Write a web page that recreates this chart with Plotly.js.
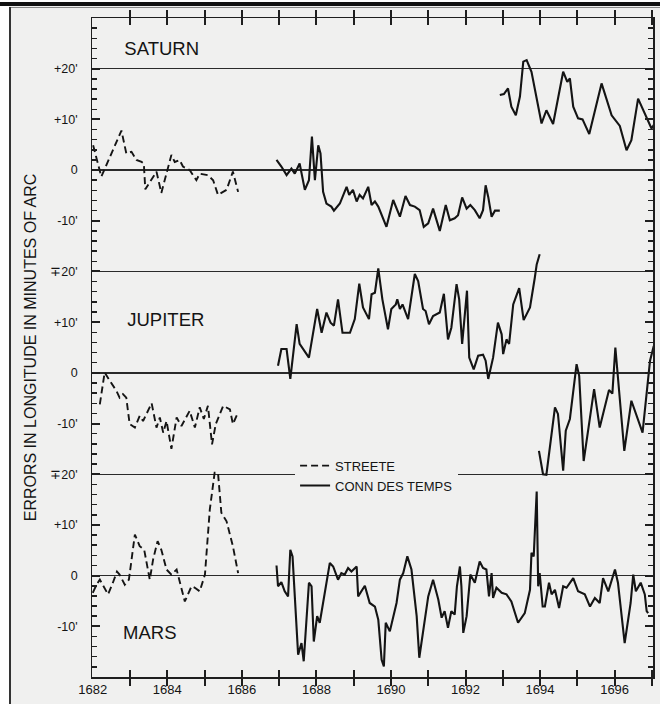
<!DOCTYPE html>
<html><head><meta charset="utf-8">
<script src="https://cdn.plot.ly/plotly-3.0.1.min.js"></script>
<style>
html,body{margin:0;padding:0;background:#fff;}
#wrap{position:relative;width:660px;height:704px;overflow:hidden;}
#chart{position:absolute;left:0;top:0;width:660px;height:704px;}
.deco{position:absolute;pointer-events:none;}
</style></head>
<body><div id="wrap"><div id="chart"></div>
<div class="deco" style="left:0;top:0;width:660px;height:2px;background:#fff"></div>
<div class="deco" style="left:0;top:0;width:9px;height:704px;background:#fff"></div>
<div class="deco" style="left:0;top:2px;width:660px;height:4px;background:#111"></div>
<div class="deco" style="left:9px;top:7px;width:651px;height:1px;background:#888"></div>
<div class="deco" style="left:9px;top:7px;width:2px;height:697px;background:#333"></div>
</div>
<script>
// ---- data: [year, error in minutes of arc] ----
const saturnStreete = [[1682.01,4.9],[1682.23,-1.3],[1682.77,7.8],[1682.90,3.3],[1683.04,3.6],[1683.17,2.0],[1683.31,1.6],[1683.37,1.3],[1683.41,-3.8],[1683.71,-0.3],[1683.84,-4.5],[1684.11,3.0],[1684.20,1.6],[1684.33,2.0],[1684.42,0.7],[1684.60,0],[1684.78,-2.0],[1684.87,-0.7],[1685.09,-1.0],[1685.23,-2.0],[1685.36,-4.9],[1685.59,-3.9],[1685.76,-0.3],[1685.90,-4.3]];
const saturnConnA = [[1686.93,2.0],[1687.06,0.7],[1687.20,-1.0],[1687.33,0.3],[1687.42,-0.7],[1687.55,1.3],[1687.69,-3.9],[1687.80,-2.0],[1687.88,6.6],[1687.96,-2.0],[1688.05,4.9],[1688.11,3.3],[1688.18,-4.3],[1688.27,-6.6],[1688.40,-7.2],[1688.47,-8.0],[1688.63,-6.6],[1688.81,-3.3],[1688.88,-4.9],[1688.98,-3.9],[1689.08,-6.2],[1689.16,-4.9],[1689.25,-5.6],[1689.39,-3.3],[1689.48,-6.9],[1689.57,-6.2],[1689.66,-7.2],[1689.88,-11.2],[1690.06,-5.9],[1690.24,-9.2],[1690.39,-5.1],[1690.51,-6.9],[1690.64,-7.2],[1690.77,-7.9],[1690.88,-11.2],[1691.00,-10.5],[1691.13,-7.6],[1691.22,-9.9],[1691.31,-12.0],[1691.47,-6.9],[1691.58,-9.9],[1691.71,-9.5],[1691.80,-8.9],[1691.91,-5.4],[1692.03,-7.6],[1692.13,-6.9],[1692.25,-7.9],[1692.38,-9.5],[1692.47,-7.9],[1692.54,-3.0],[1692.61,-5.3],[1692.70,-9.2],[1692.79,-8.0],[1692.92,-8.0]];
const saturnConnB = [[1692.92,14.8],[1693.03,15.0],[1693.14,16.1],[1693.23,12.5],[1693.35,10.8],[1693.46,14.5],[1693.55,21.4],[1693.64,21.7],[1693.77,19.4],[1694.04,9.2],[1694.17,11.8],[1694.35,9.1],[1694.62,19.4],[1694.73,17.4],[1694.80,18.1],[1694.89,12.5],[1695.02,10.2],[1695.14,10.0],[1695.32,7.1],[1695.65,17.1],[1695.92,10.8],[1696.14,8.7],[1696.32,3.9],[1696.45,5.9],[1696.63,14.1],[1696.86,10.2],[1696.99,8.2],[1697.08,9.2]];

const jupiterStreete = [[1682.19,-6.2],[1682.32,0.1],[1682.46,-1.6],[1682.64,-3.6],[1682.72,-4.9],[1682.81,-4.2],[1682.90,-4.9],[1682.99,-10.1],[1683.13,-10.8],[1683.26,-8.5],[1683.35,-9.5],[1683.58,-6.0],[1683.71,-10.8],[1683.80,-8.8],[1683.89,-11.8],[1683.98,-9.5],[1684.11,-15.0],[1684.25,-8.8],[1684.38,-10.5],[1684.60,-7.5],[1684.74,-10.8],[1684.87,-6.8],[1684.98,-9.1],[1685.09,-6.5],[1685.20,-14.1],[1685.30,-10.1],[1685.50,-6.5],[1685.68,-7.2],[1685.76,-10.1],[1685.88,-8.1]];
const jupiterConnA = [[1686.97,1.4],[1687.06,4.7],[1687.20,4.7],[1687.30,-1.2],[1687.47,9.6],[1687.55,5.7],[1687.80,3.0],[1688.02,12.6],[1688.14,7.9],[1688.27,11.9],[1688.38,9.9],[1688.47,9.3],[1688.58,14.5],[1688.70,7.9],[1688.90,7.9],[1689.03,10.6],[1689.15,17.6],[1689.25,12.9],[1689.41,10.6],[1689.48,15.5],[1689.57,15.8],[1689.66,20.6],[1689.77,14.5],[1689.92,8.6],[1690.01,12.6],[1690.13,13.5],[1690.17,14.5],[1690.24,12.6],[1690.31,13.5],[1690.46,10.6],[1690.64,19.5],[1690.73,18.1],[1690.86,12.6],[1690.93,12.2],[1691.02,9.6],[1691.13,11.2],[1691.31,11.9],[1691.42,15.6],[1691.53,6.6],[1691.62,8.9],[1691.76,17.5],[1691.83,14.5],[1691.91,5.7],[1692.04,16.2],[1692.10,3.0],[1692.22,0.7],[1692.34,3.4],[1692.47,3.6],[1692.54,2.4],[1692.61,-1.2],[1692.74,3.0],[1692.87,9.9],[1692.97,7.6],[1693.01,3.7],[1693.10,6.6],[1693.17,5.7],[1693.28,13.5],[1693.44,16.7],[1693.56,10.4],[1693.73,12.9],[1693.86,18.8],[1693.91,21.4],[1693.99,23.4]];
const jupiterConnB = [[1693.97,-15.4],[1694.08,-20.0],[1694.17,-20.1],[1694.40,-6.8],[1694.48,-8.1],[1694.62,-19.3],[1694.69,-11.4],[1694.80,-9.1],[1694.98,1.7],[1695.05,-0.6],[1695.17,-17.4],[1695.45,-3.2],[1695.60,-10.8],[1695.85,-3.4],[1695.94,-4.1],[1696.02,5.0],[1696.26,-15.4],[1696.45,-5.5],[1696.75,-11.8],[1696.95,2.4],[1697.05,5.3]];

const marsStreete = [[1682.00,-3.4],[1682.10,-1.8],[1682.19,-0.8],[1682.28,-2.1],[1682.41,-3.7],[1682.54,-1.4],[1682.65,0.8],[1682.72,0.2],[1682.86,-1.8],[1682.97,-0.8],[1683.04,3.2],[1683.13,8.1],[1683.26,5.8],[1683.38,5.1],[1683.53,-0.8],[1683.62,3.2],[1683.74,6.8],[1683.84,5.1],[1683.98,1.2],[1684.11,0.2],[1684.25,1.2],[1684.33,-1.1],[1684.47,-5.1],[1684.65,-2.1],[1684.74,-2.4],[1684.87,-3.1],[1685.01,0.2],[1685.14,13.0],[1685.27,20.3],[1685.36,20.3],[1685.45,12.4],[1685.59,10.7],[1685.76,5.8],[1685.90,0.5]];
const marsConn = [[1686.93,2.0],[1686.97,-2.1],[1687.06,-1.3],[1687.15,-3.1],[1687.24,-4.1],[1687.30,5.1],[1687.36,3.8],[1687.47,-12.6],[1687.51,-15.6],[1687.60,-13.3],[1687.66,-16.9],[1687.80,-1.4],[1687.87,-2.1],[1687.93,-13.0],[1688.02,-8.0],[1688.09,-9.3],[1688.22,-3.4],[1688.36,2.5],[1688.45,1.8],[1688.58,-0.8],[1688.67,0.5],[1688.76,0.2],[1688.85,1.5],[1688.94,0.8],[1689.08,1.8],[1689.12,-4.1],[1689.30,-2.0],[1689.43,-5.4],[1689.57,-6.1],[1689.66,-8.7],[1689.75,-16.6],[1689.81,-17.9],[1689.86,-9.3],[1689.97,-11.0],[1690.15,-5.4],[1690.24,-0.8],[1690.33,0.5],[1690.44,3.8],[1690.55,1.2],[1690.69,-8.0],[1690.76,-16.2],[1690.86,-11.3],[1691.00,-4.1],[1691.13,-0.8],[1691.27,-4.7],[1691.36,-8.3],[1691.44,-7.0],[1691.53,-10.3],[1691.62,-7.0],[1691.71,-7.7],[1691.77,-2.1],[1691.85,1.8],[1691.89,-2.1],[1691.94,-11.3],[1692.03,-8.0],[1692.13,0.2],[1692.25,-1.4],[1692.38,2.8],[1692.47,1.5],[1692.56,1.2],[1692.63,-4.1],[1692.70,0.5],[1692.74,-4.4],[1692.83,-2.4],[1692.97,-3.4],[1693.10,-3.7],[1693.23,-5.1],[1693.41,-9.3],[1693.59,-7.4],[1693.73,-2.8],[1693.77,4.5],[1693.83,3.8],[1693.91,16.6],[1693.95,-2.1],[1693.99,0.5],[1694.07,-6.1],[1694.13,-6.1],[1694.24,-1.4],[1694.31,-3.7],[1694.40,-2.8],[1694.51,-6.4],[1694.62,-2.1],[1694.71,-2.4],[1694.89,-0.5],[1695.02,-3.1],[1695.20,-3.7],[1695.34,-6.1],[1695.47,-4.4],[1695.60,-5.4],[1695.69,-0.5],[1695.83,-3.1],[1696.01,1.2],[1696.09,-1.4],[1696.27,-13.3],[1696.43,-5.4],[1696.50,0.2],[1696.57,-3.1],[1696.70,-1.4],[1696.81,-3.7],[1696.86,-7.0],[1696.90,-7.4]];

const seriesNames = ['STREETE', 'CONN DES TEMPS'];
const panelNames = ['SATURN', 'JUPITER', 'MARS'];
const xTickVals = [1682,1683,1684,1685,1686,1687,1688,1689,1690,1691,1692,1693,1694,1695,1696,1697];
const xTickText = ['1682','','1684','','1686','','1688','','1690','','1692','','1694','','1696',''];
const yTickVals = [-10,0,10,20,30,40,50,60,70,80,90,100];
const yTickText = ["-10'","0","+10'","\u221320'","-10'","0","+10'","\u221320'","-10'","0","+10'","+20'"];

// layout constants: vertical offset of each panel on the shared axis, and label anchor positions
const offsets = {SATURN: 80, JUPITER: 40, MARS: 0};
const labelX = [1683.85, 1683.96, 1683.53];
const labelY = [103.7, 50.1, -11.5];

const FONT = 'Liberation Sans, Arial, Helvetica, sans-serif';
const INK = '#141414';
const BG = '#f0f0ef';
const GAP = '\u00a0\u00a0\u00a0';

function mk(pts, off, dashed, name, showlegend) {
  return {
    type: 'scatter', mode: 'lines', name: name, showlegend: showlegend, hoverinfo: 'skip',
    x: pts.map(p => p[0]), y: pts.map(p => p[1] + off),
    line: dashed ? {color: INK, width: 1.9, dash: '7px,4px'} : {color: INK, width: 2.1}
  };
}

const traces = [
  mk(saturnStreete, offsets.SATURN, true, seriesNames[0], true),
  mk(saturnConnA, offsets.SATURN, false, seriesNames[1], true),
  mk(saturnConnB, offsets.SATURN, false, seriesNames[1], false),
  mk(jupiterStreete, offsets.JUPITER, true, seriesNames[0], false),
  mk(jupiterConnA, offsets.JUPITER, false, seriesNames[1], false),
  mk(jupiterConnB, offsets.JUPITER, false, seriesNames[1], false),
  mk(marsStreete, offsets.MARS, true, seriesNames[0], false),
  mk(marsConn, offsets.MARS, false, seriesNames[1], false),
  {type: 'scatter', mode: 'text', x: labelX, y: labelY, text: panelNames, yaxis: 'y2',
   textposition: 'middle center', textfont: {family: FONT, size: 18.5, color: INK},
   showlegend: false, hoverinfo: 'skip', cliponaxis: false}
];

const axisCommon = {
  showline: true, linecolor: '#1e1e1e', linewidth: 1.5, mirror: 'allticks',
  ticks: 'inside', tickcolor: '#1e1e1e', tickwidth: 2, showgrid: false, zeroline: false,
  tickfont: {family: FONT, size: 13, color: INK}, fixedrange: true
};

const layout = {
  width: 660, height: 704,
  margin: {l: 92, r: 7, t: 18, b: 27, pad: 0},
  paper_bgcolor: BG, plot_bgcolor: BG,
  font: {family: FONT, color: INK},
  xaxis: Object.assign({}, axisCommon, {range: [1681.98, 1697.03], tickmode: 'array', tickvals: xTickVals, ticktext: xTickText, ticklen: 7}),
  yaxis: Object.assign({}, axisCommon, {range: [-20, 110], tickmode: 'array', tickvals: yTickVals,
    ticktext: yTickText.map(t => t + GAP), ticklen: 8,
    tickfont: {family: FONT, size: 12.5, color: INK},
    title: {text: 'ERRORS IN LONGITUDE IN MINUTES OF ARC', font: {family: FONT, size: 16, color: INK}, standoff: 9},
    minor: {tickmode: 'linear', tick0: 0, dtick: 2, ticks: 'inside', ticklen: 5, tickwidth: 1.5, tickcolor: '#1e1e1e', showgrid: false}}),
  // reference lines of the three panels (0 and +/-20' of each) as grid of an overlaid axis
  yaxis2: {overlaying: 'y', side: 'left', range: [-20, 110], tickmode: 'linear', tick0: 0, dtick: 20,
    showgrid: true, gridcolor: '#2a2a2a', gridwidth: 1.4, showticklabels: false, ticks: '',
    showline: false, zeroline: false, fixedrange: true},
  showlegend: true,
  legend: {x: 0.362, y: 0.3435, xanchor: 'left', yanchor: 'top', bgcolor: BG, borderwidth: 0,
    font: {family: FONT, size: 13, color: INK}, itemwidth: 30}
};

Plotly.newPlot('chart', traces, layout, {staticPlot: true, displayModeBar: false});
</script></body></html>
